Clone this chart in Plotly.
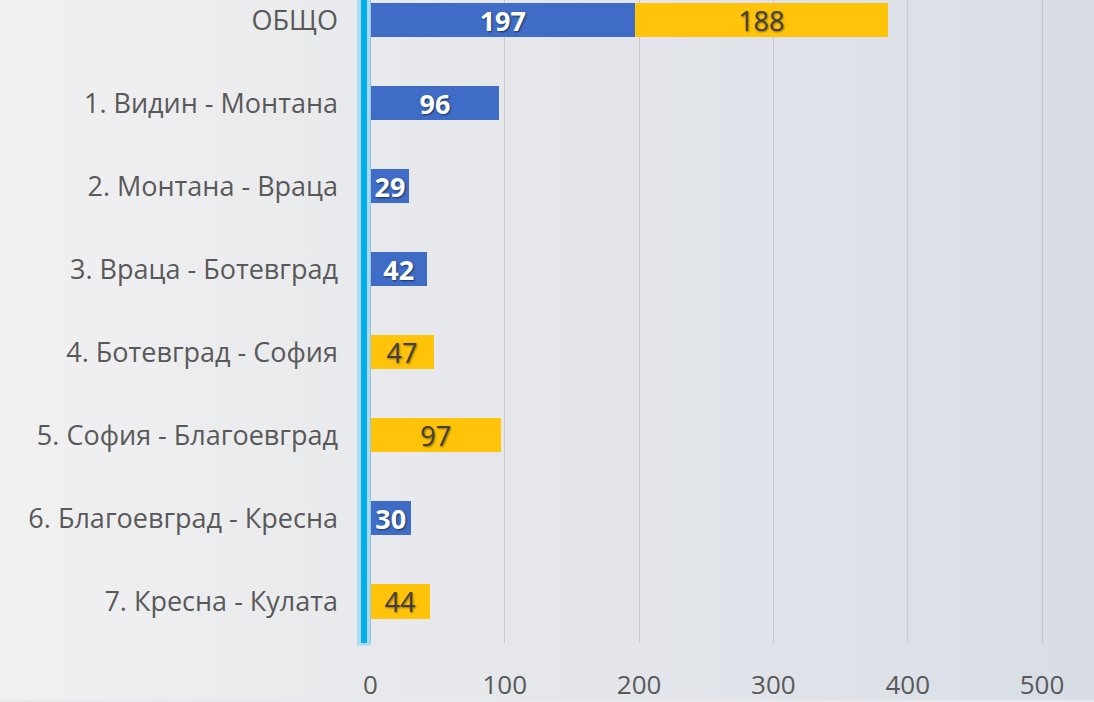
import base64
import plotly.graph_objects as go

categories = ["ОБЩО", "1. Видин - Монтана", "2. Монтана - Враца", "3. Враца - Ботевград",
              "4. Ботевград - София", "5. София - Благоевград", "6. Благоевград - Кресна",
              "7. Кресна - Кулата"]
blue_values = [197, 96, 29, 42, None, None, 30, None]
yellow_values = [188, None, None, None, 47, 97, None, 44]
x_ticks = [0, 100, 200, 300, 400, 500]

W, H = 1094, 702
L, B = 360, 57
plot_w, plot_h = W - L, H - B

svg = f'''<svg xmlns="http://www.w3.org/2000/svg" width="{W}" height="{H}" preserveAspectRatio="none">
<defs><linearGradient id="g" x1="0" y1="0" x2="1" y2="0">
<stop offset="0" stop-color="#F1F1F2"/><stop offset="0.35" stop-color="#E8E9EC"/>
<stop offset="0.7" stop-color="#E0E3E9"/><stop offset="1" stop-color="#D8DDE6"/></linearGradient></defs>
<rect width="{W}" height="{H}" fill="url(#g)"/></svg>'''
bg_src = "data:image/svg+xml;base64," + base64.b64encode(svg.encode()).decode()

fig = go.Figure()
fig.add_trace(go.Bar(
    y=categories, x=blue_values, orientation="h", name="blue",
    marker=dict(color="#3F6CC6", line=dict(width=0)),
    text=[str(v) if v is not None else "" for v in blue_values],
    textposition="inside", insidetextanchor="middle", constraintext="none", textangle=0,
    textfont=dict(family="Open Sans", size=27, color="white", weight="bold",
                  shadow="1px 1px 2px rgba(0,0,0,0.55)"),
    cliponaxis=False,
))
fig.add_trace(go.Bar(
    y=categories, x=yellow_values, orientation="h", name="yellow",
    marker=dict(color="#FFC30A", line=dict(width=0)),
    text=[str(v) if v is not None else "" for v in yellow_values],
    textposition="inside", insidetextanchor="middle", constraintext="none", textangle=0,
    textfont=dict(family="Open Sans", size=27, color="#404040",
                  shadow="1px 1px 2px rgba(0,0,0,0.45)"),
    cliponaxis=False,
))

px_per_unit = 1.343
x0 = -(370.5 - L) / px_per_unit
x1 = x0 + plot_w / px_per_unit
n = len(categories)
unit_px = 83.3
top = (n - 0.5) - plot_h / unit_px

fig.update_layout(
    width=W, height=H,
    margin=dict(l=L, r=0, t=0, b=B),
    barmode="stack", bargap=0.59,
    showlegend=False,
    paper_bgcolor="#E8E9EC", plot_bgcolor="rgba(0,0,0,0)",
    images=[dict(source=bg_src, xref="paper", yref="paper",
                 x=-L / plot_w, y=1, sizex=W / plot_w, sizey=H / plot_h,
                 xanchor="left", yanchor="top", sizing="stretch", layer="below")],
    xaxis=dict(range=[x0, x1], tickvals=x_ticks, showgrid=True,
               gridcolor="rgba(190,190,195,0.7)", gridwidth=1.3, zeroline=False,
               showline=False, ticks="", ticklabelstandoff=24,
               tickfont=dict(family="Open Sans", size=26, color="#595959")),
    yaxis=dict(categoryorder="array", categoryarray=categories,
               range=[n - 0.5, top], showgrid=False, zeroline=False, showline=False,
               ticks="", ticklabelstandoff=21,
               tickfont=dict(family="Open Sans", size=27, color="#595959")),
    shapes=[
        dict(type="line", xref="paper", yref="paper", x0=(364 - L) / plot_w, x1=(364 - L) / plot_w,
             y0=-0.004, y1=1, line=dict(color="rgba(0,176,240,0.25)", width=14), layer="above"),
        dict(type="line", xref="paper", yref="paper", x0=(364 - L) / plot_w, x1=(364 - L) / plot_w,
             y0=0, y1=1, line=dict(color="#00B0F0", width=6), layer="above"),
    ],
)

fig.write_html("out.html", config={"displayModeBar": False},
               post_script="document.body.style.margin='0';document.body.style.overflow='hidden';")
